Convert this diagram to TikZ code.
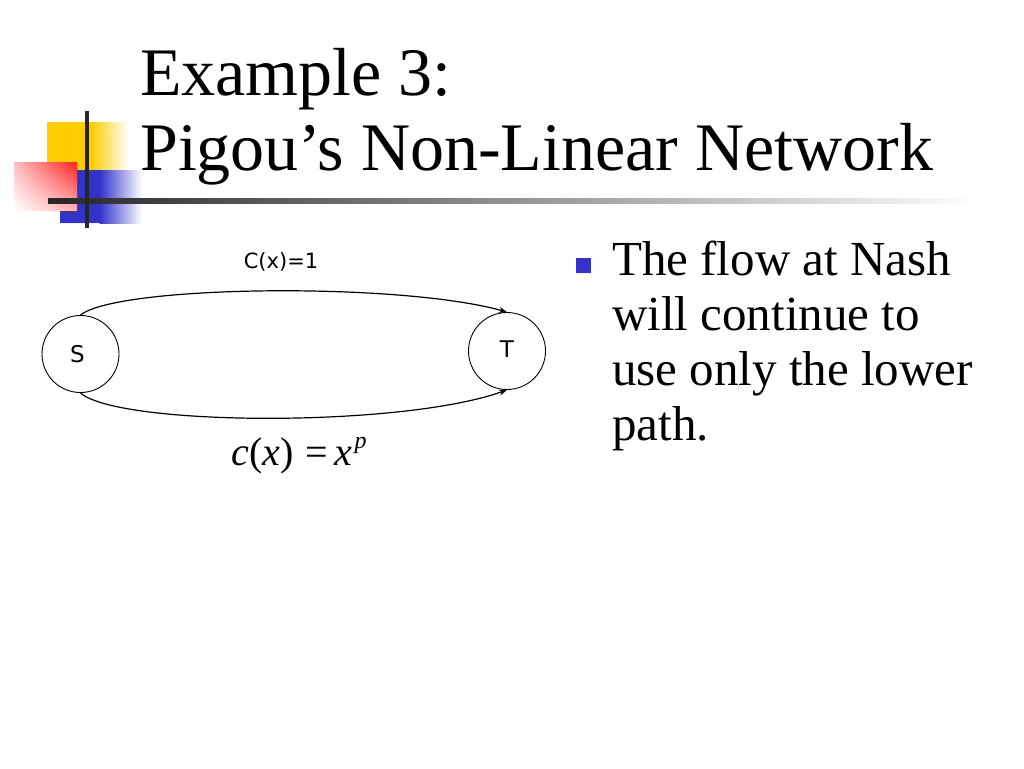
\documentclass[tikz,border=0pt]{standalone}
\usepackage{fontspec}
\setmainfont{Liberation Serif}
\newfontfamily\vsans{DejaVu Sans}
\newfontfamily\tms{Liberation Serif}
\usetikzlibrary{arrows.meta,shadings}
\definecolor{logoyellow}{HTML}{FFCC00}
\definecolor{logoblue}{HTML}{3333CC}
\definecolor{logored}{HTML}{FF2020}
\begin{document}
\begin{tikzpicture}[x=1pt,y=-1pt,
  vertex/.style={circle,draw,line width=0.9pt,minimum size=77pt,inner sep=0pt,font=\vsans\fontsize{23}{26}\selectfont},
  arr/.style={line width=1.2pt,-{Stealth[length=8pt,width=6pt]}},
  edgelabel/.style={inner sep=0pt},
]
\useasboundingbox[fill=white] (0,0) rectangle (1024,768);
% logo decoration
\fill[logoyellow] (47,122) rectangle (92,172);
\shade[left color=logoyellow,right color=white] (91.5,122) rectangle (128,172);
\fill[logoblue] (60,170) rectangle (100,223);
\shade[left color=logoblue,right color=white] (99.5,170) rectangle (142,223);
\shade[upper left=red!25,upper right=logored,lower left=white,lower right=red!30] (14,162) rectangle (77,210);
\shade[left color=black!85,right color=white] (48,198) rectangle (980,203);
\fill[black!85] (85,111) rectangle (89,228);
% title
\node[anchor=base west,inner sep=0pt,align=left,font=\fontsize{68}{75}\selectfont] (title) at (140,170) {Example 3:\\Pigou’s Non-Linear Network};
% diagram
\node[vertex] (S) at (80.5,354) {\hspace*{-6pt}S};
\node[vertex] (T) at (507,351) {\raisebox{4pt}{T}};
\draw[arr] (S.north) .. controls (118,285) and (400,282) .. (T.north);
\draw[arr] (S.south) .. controls (118,426) and (400,428) .. (T.south);
\node[edgelabel,font=\vsans\fontsize{21}{24}\selectfont] (ctop) at (281,262) {C(x)=1};
\node[edgelabel,anchor=base,font=\tms\fontsize{40}{44}\selectfont] (cbot) at (299,465) {\textit{c}(\textit{x})\hspace{12pt}=\hspace{7pt}\textit{x}\raisebox{17pt}{\fontsize{24}{26}\selectfont\hspace{2pt}\textit{p}}};
% bullet text
\node[fill=logoblue,minimum size=15pt,inner sep=0pt] (bullet) at (583.5,265) {};
\node[anchor=base west,inner sep=0pt,align=left,font=\fontsize{49}{55}\selectfont] (body) at (612,440) {The flow at Nash\\will continue to\\use only the lower\\path.};
\end{tikzpicture}
\end{document}
